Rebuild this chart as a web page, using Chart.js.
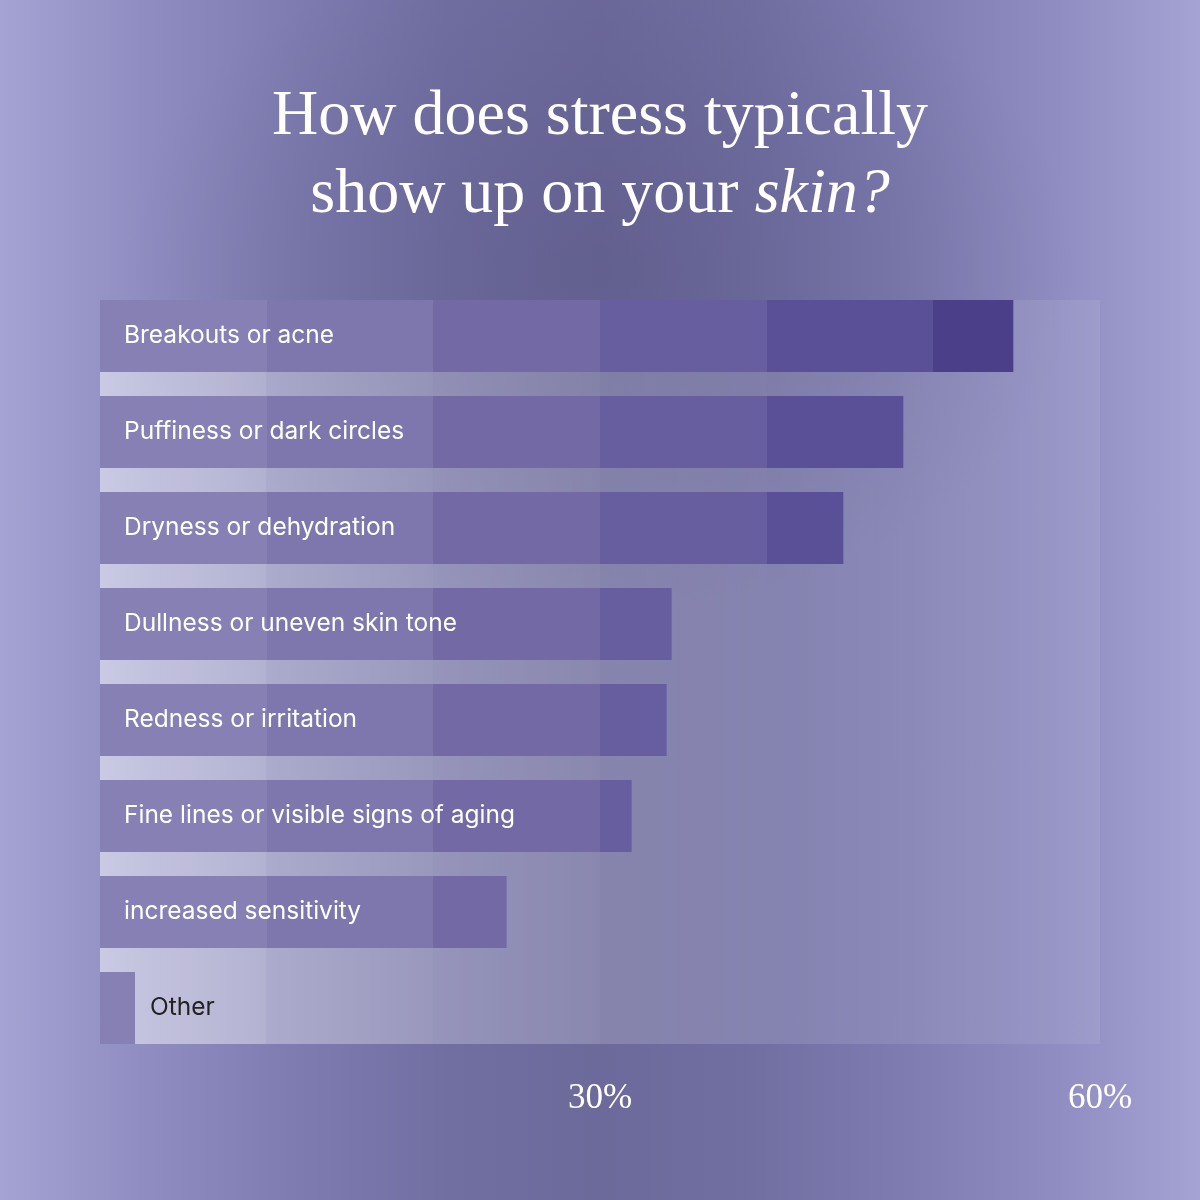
<!DOCTYPE html>
<html>
<head>
<meta charset="utf-8">
<script src="https://cdn.jsdelivr.net/npm/chart.js@4.4.1/dist/chart.umd.min.js"></script>
<style>
html,body{margin:0;padding:0;}
body{width:1200px;height:1200px;overflow:hidden;position:relative;
  background:
    radial-gradient(ellipse 480px 340px at 600px 270px, rgba(78,74,118,0.32) 0%, rgba(78,74,118,0) 100%),
    linear-gradient(to right, #a5a3d4 0%, #8e8cc0 12.5%, #7d7baf 25%, #716fa2 37.5%, #6c6a9b 50%, #716fa2 62.5%, #7d7baf 75%, #8e8cc0 87.5%, #a5a3d4 100%);
}
#title{position:absolute;left:0;top:74px;width:1200px;text-align:center;color:#fff;
  font-family:"Liberation Serif",serif;font-size:64px;line-height:78px;}
#title em{font-style:italic;}
#wrap{position:absolute;left:0;top:0;width:1200px;height:1200px;}
</style>
</head>
<body>
<div id="wrap"><canvas id="c" width="1200" height="1200"></canvas></div>
<div id="title">How does stress typically<br>show up on your <em>skin?</em></div>
<script>
const categories = [
  "Breakouts or acne",
  "Puffiness or dark circles",
  "Dryness or dehydration",
  "Dullness or uneven skin tone",
  "Redness or irritation",
  "Fine lines or visible signs of aging",
  "increased sensitivity",
  "Other"
];
const values = [54.8, 48.2, 44.6, 34.3, 34.0, 31.9, 24.4, 2.1];
const tickValues = [30, 60];
const axisMax = 60;
const bandStep = 10;
const barBandColors = ['#8780b4', '#7e77ae', '#7269a5', '#675e9f', '#5a5097', '#4b3f8a'];
const bandAlphaStart = [0.50, 0.35, 0.26, 0.18, 0.13, 0.10];
const bandAlphaEnd   = [0.40, 0.28, 0.20, 0.14, 0.10, 0.08];

const bandsPlugin = {
  id: 'bands',
  beforeDatasetsDraw(chart) {
    const meta = chart.getDatasetMeta(0);
    if (!meta.data.length) return;
    const first = meta.data[0], last = meta.data[meta.data.length - 1];
    const top = first.y - first.height / 2;
    const bottom = last.y + last.height / 2;
    const xs = chart.scales.x;
    const ctx = chart.ctx;
    ctx.save();
    const n = Math.round(axisMax / bandStep);
    for (let i = 0; i < n; i++) {
      const x0 = xs.getPixelForValue(i * bandStep);
      const x1 = xs.getPixelForValue((i + 1) * bandStep);
      const g = ctx.createLinearGradient(x0, 0, x1, 0);
      g.addColorStop(0, 'rgba(255,255,255,' + bandAlphaStart[i] + ')');
      g.addColorStop(1, 'rgba(255,255,255,' + bandAlphaEnd[i] + ')');
      ctx.fillStyle = g;
      ctx.fillRect(x0, top, x1 - x0, bottom - top);
    }
    ctx.restore();
  }
};

const labelPlugin = {
  id: 'barLabels',
  afterDatasetsDraw(chart) {
    const meta = chart.getDatasetMeta(0);
    const ctx = chart.ctx;
    ctx.save();
    ctx.font = '24.5px Inter, "Noto Sans", sans-serif';
    ctx.textBaseline = 'middle';
    ctx.textAlign = 'left';
    meta.data.forEach((el, i) => {
      const label = categories[i];
      const w = ctx.measureText(label).width;
      const barLen = el.x - el.base;
      if (w + 48 < barLen) {
        ctx.fillStyle = '#ffffff';
        ctx.fillText(label, el.base + 24, el.y);
      } else {
        ctx.fillStyle = '#222222';
        ctx.fillText(label, el.x + 15, el.y);
      }
    });
    ctx.restore();
  }
};

new Chart(document.getElementById('c'), {
  type: 'bar',
  data: {
    labels: categories,
    datasets: [{
      data: values,
      barPercentage: 0.75,
      categoryPercentage: 1.0,
      borderWidth: 0,
      backgroundColor: (context) => {
        const chart = context.chart;
        const ca = chart.chartArea;
        if (!ca) return barBandColors[0];
        const g = chart.ctx.createLinearGradient(ca.left, 0, ca.right, 0);
        const n = barBandColors.length;
        barBandColors.forEach((c, i) => {
          g.addColorStop(i / n, c);
          g.addColorStop((i + 1) / n, c);
        });
        return g;
      }
    }]
  },
  options: {
    indexAxis: 'y',
    responsive: false,
    animation: false,
    devicePixelRatio: 1,
    layout: { padding: { left: 100, right: 100, top: 288, bottom: 58 } },
    plugins: { legend: { display: false }, tooltip: { enabled: false }, title: { display: false } },
    scales: {
      y: { display: false, offset: true },
      x: {
        type: 'linear', min: 0, max: axisMax,
        grid: { display: false, drawTicks: false },
        border: { display: false },
        afterBuildTicks: (s) => { s.ticks = tickValues.map(v => ({ value: v })); },
        ticks: {
          color: '#ffffff',
          padding: 22,
          maxRotation: 0,
          font: { family: '"Liberation Serif", serif', size: 35 },
          callback: (v) => v + '%'
        }
      }
    }
  },
  plugins: [bandsPlugin, labelPlugin]
});
</script>
</body>
</html>
